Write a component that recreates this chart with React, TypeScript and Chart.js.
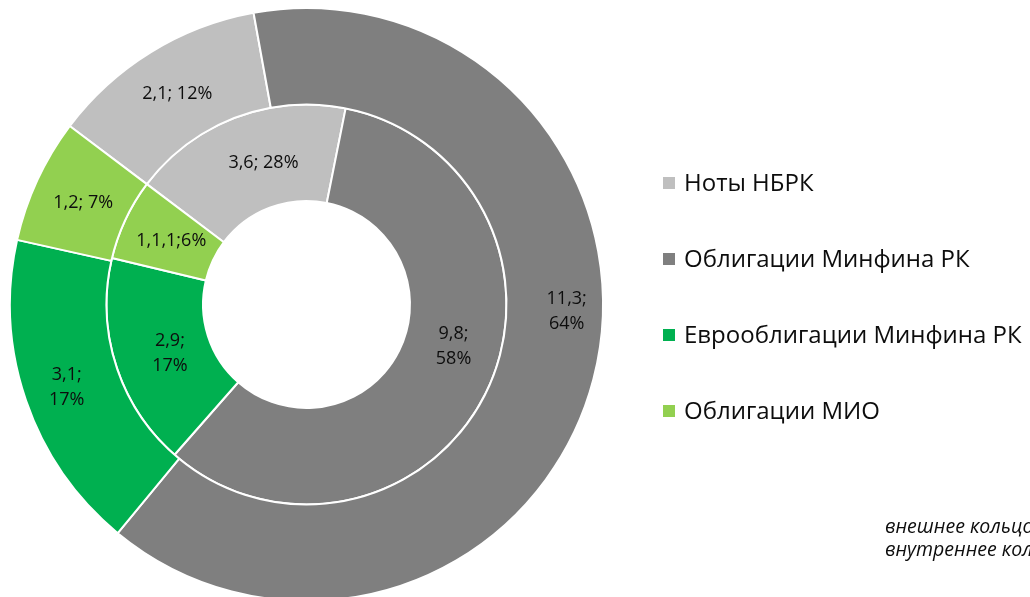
import React, { useEffect, useRef } from "react";
import { Chart, registerables } from "chart.js";

Chart.register(...registerables);

// ---- data ----
const categories = [
  "Ноты НБРК",
  "Облигации Минфина РК",
  "Еврооблигации Минфина РК",
  "Облигации МИО",
];
const outerValues = [2.1, 11.3, 3.1, 1.2];
const innerValues = [3.0, 9.8, 2.9, 1.1];
const outerLabels = ["2,1; 12%", "11,3;\n64%", "3,1;\n17%", "1,2; 7%"];
const innerLabels = ["3,6; 28%", "9,8;\n58%", "2,9;\n17%", "1,1,1;6%"];
const footnotes = ["внешнее кольцо", "внутреннее кольцо"];

// ---- styles / layout ----
const colors = ["#BFBFBF", "#7F7F7F", "#00B050", "#92D050"];
const outerLabelShift = [
  [1, 1],
  [20, -56],
  [-5, 2],
  [2, 2],
];
const innerLabelShift = [
  [11, 0],
  [11, -25],
  [8, 3],
  [2, 1],
];
const FONT = "'Open Sans', 'Noto Sans', sans-serif";

const overlayPlugin = {
  id: "overlay",
  afterDatasetsDraw(chart: any) {
    const ctx = chart.ctx as CanvasRenderingContext2D;
    ctx.save();
    // data labels
    const sets = [
      { labels: outerLabels, shift: outerLabelShift },
      { labels: innerLabels, shift: innerLabelShift },
    ];
    sets.forEach((s, di) => {
      const meta = chart.getDatasetMeta(di);
      meta.data.forEach((arc: any, i: number) => {
        const p = arc.tooltipPosition(false);
        const lines = s.labels[i].split("\n");
        const lh = 25;
        ctx.font = `18px ${FONT}`;
        ctx.fillStyle = "#0d0d0d";
        ctx.textAlign = "center";
        ctx.textBaseline = "middle";
        const cx = p.x + s.shift[i][0];
        const cy = p.y + s.shift[i][1];
        lines.forEach((ln, li) => {
          ctx.fillText(ln, cx, cy + (li - (lines.length - 1) / 2) * lh);
        });
      });
    });
    // legend
    const lx = 663;
    const ly = 183;
    const gap = 76;
    categories.forEach((c, i) => {
      const y = ly + i * gap;
      ctx.fillStyle = colors[i];
      ctx.fillRect(lx, y - 6, 12, 12);
      ctx.fillStyle = "#0d0d0d";
      ctx.font = `24px ${FONT}`;
      ctx.textAlign = "left";
      ctx.textBaseline = "middle";
      ctx.fillText(c, lx + 21, y + 1);
    });
    // footnotes
    ctx.font = `italic 19.5px ${FONT}`;
    ctx.fillStyle = "#0d0d0d";
    ctx.textAlign = "left";
    ctx.textBaseline = "middle";
    footnotes.forEach((f, i) => {
      ctx.fillText(f, 885, 527 + i * 23);
    });
    ctx.restore();
  },
};

export default function App() {
  const ref = useRef<HTMLCanvasElement | null>(null);
  useEffect(() => {
    document.body.style.overflow = "hidden";
    const canvas = ref.current!;
    const chart = new Chart(canvas, {
      type: "doughnut",
      data: {
        labels: categories,
        datasets: [
          {
            data: outerValues,
            backgroundColor: colors,
            borderColor: "#FFFFFF",
            borderWidth: 2,
            hoverOffset: 0,
          },
          {
            data: innerValues,
            backgroundColor: colors,
            borderColor: "#FFFFFF",
            borderWidth: 2,
            hoverOffset: 0,
          },
        ],
      },
      options: {
        responsive: false,
        animation: false,
        rotation: -53,
        cutout: "34.9%",
        layout: { padding: { left: 9, top: 7, right: 426, bottom: 18 } },
        plugins: {
          legend: { display: false },
          tooltip: { enabled: false },
          title: { display: false },
        },
        events: [],
      },
      plugins: [overlayPlugin],
    });
    return () => chart.destroy();
  }, []);
  return (
    <div style={{ position: "absolute", left: 0, top: 0, width: 1030, height: 620 }}>
      <canvas ref={ref} width={1030} height={620} style={{ width: 1030, height: 620, display: "block" }} />
    </div>
  );
}
